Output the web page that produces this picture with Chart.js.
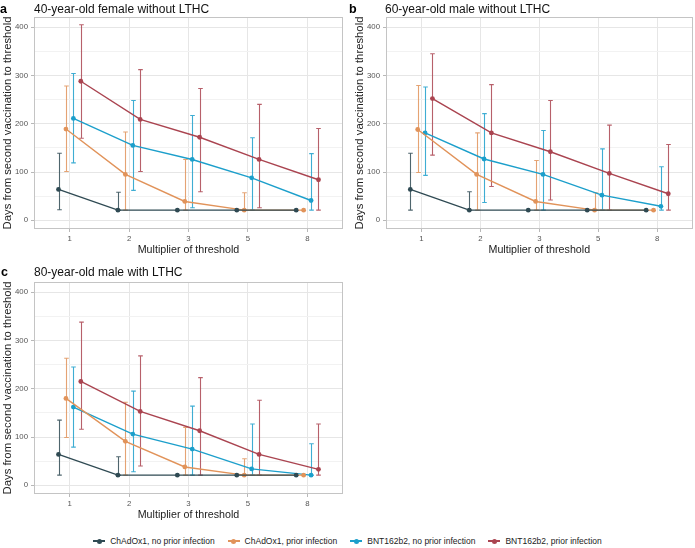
<!DOCTYPE html>
<html>
<head>
<meta charset="utf-8">
<script src="https://cdn.jsdelivr.net/npm/chart.js@4"></script>
<style>
  html, body { margin:0; padding:0; background:#fff; }
  body { width:695px; height:548px; position:relative; overflow:hidden; font-family:"Liberation Sans", Arial, sans-serif; }
  canvas { position:absolute; }
  .lab { position:absolute; font-weight:bold; font-size:12.5px; color:#000; line-height:1; }
  .ttl { position:absolute; font-size:12px; color:#111; line-height:1; white-space:nowrap; }
  #legend { position:absolute; left:0; width:695px; top:536px; display:flex; justify-content:center; font-size:8.5px; color:#222; }
  .li { display:flex; align-items:center; margin:0 6.5px; }
  .sym { position:relative; width:12px; height:10px; margin-right:5px; }
  .sym .ln { position:absolute; left:0; right:0; top:4.4px; height:1.3px; }
  .sym .pt { position:absolute; left:3.5px; top:2.5px; width:5px; height:5px; border-radius:50%; }
</style>
</head>
<body>
<canvas id="ca" width="350" height="256" style="left:0;top:0;"></canvas>
<canvas id="cb" width="343" height="256" style="left:352px;top:0;"></canvas>
<canvas id="cc" width="350" height="256" style="left:0;top:265px;"></canvas>

<div class="lab" style="left:0px;top:3px;">a</div>
<div class="ttl" style="left:34px;top:3px;">40-year-old female without LTHC</div>
<div class="lab" style="left:349px;top:3px;">b</div>
<div class="ttl" style="left:385px;top:3px;">60-year-old male without LTHC</div>
<div class="lab" style="left:1px;top:266px;">c</div>
<div class="ttl" style="left:34px;top:266px;">80-year-old male with LTHC</div>
<div id="legend"></div>

<script>
// ---------- data ----------
const CATEGORIES = ['1', '2', '3', '5', '8'];
const SERIES_NAMES = ['ChAdOx1, no prior infection', 'ChAdOx1, prior infection', 'BNT162b2, no prior infection', 'BNT162b2, prior infection'];
const Y_TICKS = [0, 100, 200, 300, 400];

// Panel a: 40-year-old female without LTHC
const A_CHAD_NO      = [64, 21, 21, 21, 21];
const A_CHAD_NO_LO   = [22, 21, 21, 21, 21];
const A_CHAD_NO_HI   = [139, 58, 21, 21, 21];
const A_CHAD_PRI     = [189, 95, 39, 21, 21];
const A_CHAD_PRI_LO  = [101, 21, 21, 21, 21];
const A_CHAD_PRI_HI  = [278, 183, 126, 57, 21];
const A_BNT_NO       = [211, 155, 126, 88, 41];
const A_BNT_NO_LO    = [119, 62, 26, 21, 21];
const A_BNT_NO_HI    = [304, 248, 217, 171, 138];
const A_BNT_PRI      = [288, 209, 172, 126, 84];
const A_BNT_PRI_LO   = [170, 101, 59, 26, 21];
const A_BNT_PRI_HI   = [405, 312, 273, 240, 190];

// Panel b: 60-year-old male without LTHC
const B_CHAD_NO      = [64, 21, 21, 21, 21];
const B_CHAD_NO_LO   = [21, 21, 21, 21, 21];
const B_CHAD_NO_HI   = [139, 59, 21, 21, 21];
const B_CHAD_PRI     = [188, 95, 39, 21, 21];
const B_CHAD_PRI_LO  = [99, 21, 21, 21, 21];
const B_CHAD_PRI_HI  = [279, 181, 124, 57, 21];
const B_BNT_NO       = [181, 127, 95, 52, 29];
const B_BNT_NO_LO    = [93, 37, 21, 21, 21];
const B_BNT_NO_HI    = [276, 221, 186, 148, 111];
const B_BNT_PRI      = [252, 181, 142, 97, 55];
const B_BNT_PRI_LO   = [135, 70, 42, 21, 21];
const B_BNT_PRI_HI   = [345, 281, 248, 197, 157];

// Panel c: 80-year-old male with LTHC
const C_CHAD_NO      = [64, 21, 21, 21, 21];
const C_CHAD_NO_LO   = [21, 21, 21, 21, 21];
const C_CHAD_NO_HI   = [135, 59, 21, 21, 21];
const C_CHAD_PRI     = [180, 91, 38, 21, 21];
const C_CHAD_PRI_LO  = [99, 21, 21, 21, 21];
const C_CHAD_PRI_HI  = [263, 172, 120, 55, 21];
const C_BNT_NO       = [162, 106, 75, 34, 21];
const C_BNT_NO_LO    = [79, 28, 21, 21, 21];
const C_BNT_NO_HI    = [245, 195, 164, 127, 86];
const C_BNT_PRI      = [215, 153, 113, 64, 33];
const C_BNT_PRI_LO   = [116, 40, 21, 21, 21];
const C_BNT_PRI_HI   = [338, 268, 223, 176, 127];

// ---------- style ----------
const COLORS = ['#2f4a53', '#e1935a', '#1c9fcb', '#aa4450'];
const BAR_COLORS = ['rgba(47,74,83,0.85)', 'rgba(225,147,90,0.85)', 'rgba(28,159,203,0.85)', 'rgba(170,68,80,0.85)'];
const DODGE = [-0.1875, -0.0625, 0.0625, 0.1875];

Chart.defaults.font.family = '"Liberation Sans", Arial, sans-serif';
Chart.defaults.animation = false;

const errorBarPlugin = {
  id: 'errbars',
  beforeDatasetsDraw(chart) {
    const ctx = chart.ctx;
    const xs = chart.scales.x, ys = chart.scales.y;
    chart.data.datasets.forEach((ds, di) => {
      ctx.save();
      ctx.strokeStyle = BAR_COLORS[di];
      ctx.lineWidth = 1.1;
      ds.data.forEach((p) => {
        if (p.hi <= p.lo) return;
        const x = Math.round(xs.getPixelForValue(p.x)) + 0.5;
        const y1 = ys.getPixelForValue(p.lo);
        const y2 = ys.getPixelForValue(p.hi);
        ctx.beginPath();
        ctx.moveTo(x, y1); ctx.lineTo(x, y2);
        ctx.moveTo(x - 2.3, y2); ctx.lineTo(x + 2.3, y2);
        ctx.moveTo(x - 2.3, y1); ctx.lineTo(x + 2.3, y1);
        ctx.stroke();
      });
      ctx.restore();
    });
  }
};

const borderPlugin = {
  id: 'panelBorder',
  afterDraw(chart) {
    const a = chart.chartArea, ctx = chart.ctx;
    ctx.save();
    ctx.strokeStyle = '#c4c4c4';
    ctx.lineWidth = 1;
    ctx.strokeRect(Math.round(a.left) + 0.5, Math.round(a.top) + 0.5, Math.round(a.right - a.left) - 1, Math.round(a.bottom - a.top) - 1);
    ctx.restore();
  }
};

function makePanel(id, series, yAxisWidth, padRight) {
  const datasets = series.map((s, si) => ({
    label: SERIES_NAMES[si],
    data: s.v.map((v, ci) => ({ x: ci + 1 + DODGE[si], y: v, lo: s.lo[ci], hi: s.hi[ci] })),
    borderColor: COLORS[si],
    backgroundColor: COLORS[si],
    borderWidth: 1.4,
    pointRadius: 2.4,
    pointBorderWidth: 0,
    pointHoverRadius: 2.4,
    tension: 0
  }));
  new Chart(document.getElementById(id), {
    type: 'line',
    data: { datasets },
    options: {
      responsive: false,
      animation: false,
      layout: { padding: { top: 17, right: padRight, left: 0, bottom: 0 } },
      plugins: { legend: { display: false }, tooltip: { enabled: false } },
      scales: {
        x: {
          type: 'linear', min: 0.4, max: 5.6,
          afterFit(scale) { scale.height = 27; },
          afterBuildTicks(scale) { scale.ticks = CATEGORIES.map((c, i) => ({ value: i + 1 })); },
          ticks: {
            autoSkip: false, maxRotation: 0, padding: 2,
            color: '#555', font: { size: 7.8 },
            callback: (v) => CATEGORIES[Math.round(v) - 1]
          },
          grid: { color: '#e6e6e6', lineWidth: 1, tickLength: 3, tickColor: '#b8b8b8' },
          border: { display: false },
          title: { display: true, text: 'Multiplier of threshold', color: '#222', font: { size: 10.7 }, padding: { top: 0, bottom: 0 } }
        },
        y: {
          type: 'linear', min: -18, max: 421,
          afterFit(scale) { scale.width = yAxisWidth; },
          afterBuildTicks(scale) {
            const t = [];
            for (let v = 0; v <= 400; v += 50) t.push({ value: v });
            scale.ticks = t;
          },
          ticks: {
            autoSkip: false, padding: 3, color: '#555', font: { size: 7.8 },
            callback: (v) => (Y_TICKS.includes(v) ? String(v) : '')
          },
          grid: {
            color: (c) => (c.tick && c.tick.value % 100 === 0 ? '#e6e6e6' : '#f2f2f2'),
            lineWidth: 1, tickLength: 3,
            tickColor: (c) => (c.tick && c.tick.value % 100 === 0 ? '#b8b8b8' : 'rgba(0,0,0,0)')
          },
          border: { display: false },
          title: { display: true, text: 'Days from second vaccination to threshold', color: '#222', font: { size: 11.3, lineHeight: 1.2 }, padding: { top: 1.5, bottom: 0 } }
        }
      }
    },
    plugins: [errorBarPlugin, borderPlugin]
  });
}

makePanel('ca', [
  { v: A_CHAD_NO, lo: A_CHAD_NO_LO, hi: A_CHAD_NO_HI },
  { v: A_CHAD_PRI, lo: A_CHAD_PRI_LO, hi: A_CHAD_PRI_HI },
  { v: A_BNT_NO, lo: A_BNT_NO_LO, hi: A_BNT_NO_HI },
  { v: A_BNT_PRI, lo: A_BNT_PRI_LO, hi: A_BNT_PRI_HI }
], 34, 7);
makePanel('cb', [
  { v: B_CHAD_NO, lo: B_CHAD_NO_LO, hi: B_CHAD_NO_HI },
  { v: B_CHAD_PRI, lo: B_CHAD_PRI_LO, hi: B_CHAD_PRI_HI },
  { v: B_BNT_NO, lo: B_BNT_NO_LO, hi: B_BNT_NO_HI },
  { v: B_BNT_PRI, lo: B_BNT_PRI_LO, hi: B_BNT_PRI_HI }
], 34, 2);
makePanel('cc', [
  { v: C_CHAD_NO, lo: C_CHAD_NO_LO, hi: C_CHAD_NO_HI },
  { v: C_CHAD_PRI, lo: C_CHAD_PRI_LO, hi: C_CHAD_PRI_HI },
  { v: C_BNT_NO, lo: C_BNT_NO_LO, hi: C_BNT_NO_HI },
  { v: C_BNT_PRI, lo: C_BNT_PRI_LO, hi: C_BNT_PRI_HI }
], 34, 7);

// legend
const leg = document.getElementById('legend');
SERIES_NAMES.forEach((n, i) => {
  const it = document.createElement('div');
  it.className = 'li';
  it.innerHTML = '<div class="sym"><div class="ln" style="background:' + COLORS[i] + '"></div><div class="pt" style="background:' + COLORS[i] + '"></div></div><span>' + n + '</span>';
  leg.appendChild(it);
});
</script>
</body>
</html>
